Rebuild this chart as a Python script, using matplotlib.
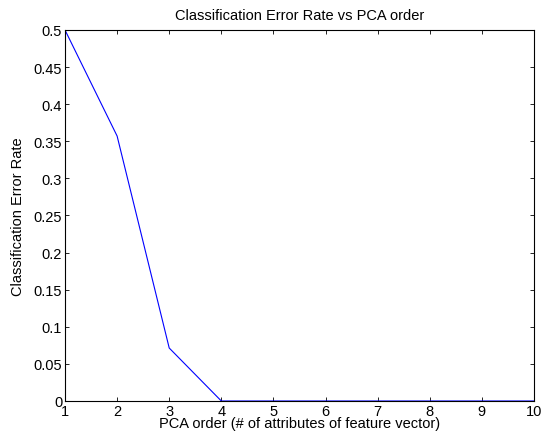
import matplotlib
matplotlib.use("Agg")
import matplotlib.pyplot as plt

# данные: порядок PCA и ошибка классификации
pca_order = [1, 2, 3, 4, 5, 6, 7, 8, 9, 10]
error_rate = [0.5, 0.3571, 0.0714, 0, 0, 0, 0, 0, 0, 0]

x_ticks = [1, 2, 3, 4, 5, 6, 7, 8, 9, 10]
y_ticks = [0, 0.05, 0.1, 0.15, 0.2, 0.25, 0.3, 0.35, 0.4, 0.45, 0.5]
y_tick_labels = ["0", "0.05", "0.1", "0.15", "0.2", "0.25", "0.3", "0.35", "0.4", "0.45", "0.5"]

plt.rcParams['font.family'] = ['Liberation Sans', 'DejaVu Sans']
plt.rcParams['font.size'] = 10.5

fig = plt.figure(figsize=(5.43, 4.39), dpi=100)
ax = fig.add_axes([0.1197, 0.0843, 0.8637, 0.8451])

ax.plot(pca_order, error_rate, color='#0000ff', linewidth=0.8)

ax.set_xlim(1, 10)
ax.set_ylim(0, 0.5)
ax.set_xticks(x_ticks)
ax.set_yticks(y_ticks)
ax.set_yticklabels(y_tick_labels)
ax.tick_params(direction='in', top=True, right=True, length=3, width=0.6, labelsize=10.5, pad=2)
for s in ax.spines.values():
    s.set_linewidth(0.8)

ax.set_title("Classification Error Rate vs PCA order", fontsize=10.5, pad=8)
ax.set_xlabel("PCA order (# of attributes of feature vector)", fontsize=10.5, labelpad=-1)
ax.set_ylabel("Classification Error Rate", fontsize=10.5, labelpad=6)

fig.savefig("out.png", dpi=100)
